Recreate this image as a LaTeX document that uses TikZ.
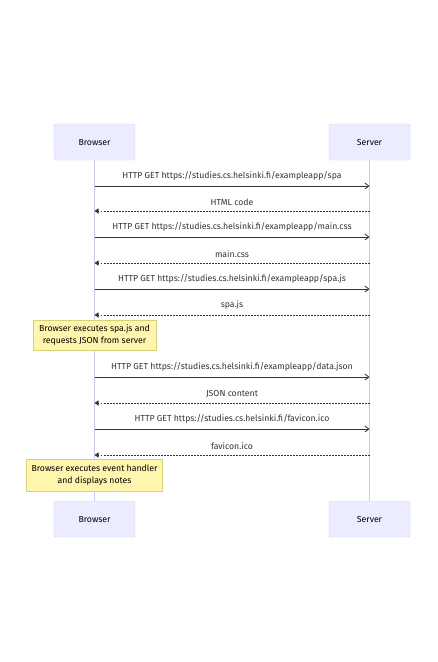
\documentclass[tikz,border=0pt]{standalone}
\usepackage{fontspec}
\setmainfont{Fira Sans}
\usetikzlibrary{arrows.meta}
\definecolor{actorfill}{HTML}{ECECFF}
\definecolor{actorline}{HTML}{D8D0F4}
\definecolor{lifeline}{HTML}{CFC6F2}
\definecolor{notefill}{HTML}{FFF5AD}
\definecolor{noteline}{HTML}{D6D27A}
\definecolor{msgcol}{HTML}{333333}
\tikzset{
  actor/.style={draw=actorline, fill=actorfill, rounded corners=1.5pt, minimum width=81pt, minimum height=36pt, inner sep=0pt, text height=6.2pt, text depth=0pt, font=\fontsize{8.7}{10}\selectfont, text=black},
  notebox/.style={draw=noteline, fill=notefill, inner sep=0pt, align=center, font=\fontsize{8.7}{11.5}\selectfont, text=black},
  lifeln/.style={draw=lifeline, line width=0.6pt},
  req/.style={draw=msgcol, line width=0.8pt, -{Straight Barb[length=4pt,width=6pt]}},
  resp/.style={draw=msgcol, line width=0.8pt, dash pattern=on 1.5pt off 1.5pt, -{Triangle[length=4pt,width=5pt]}},
  msg/.style={font=\fontsize{8.7}{10}\selectfont, text=msgcol, inner sep=0pt}
}
\begin{document}
\begin{tikzpicture}[x=1pt,y=-1pt]
\useasboundingbox (0,0) rectangle (437,662);
% participants
\node[actor] (bt) at (94.5,142) {Browser};
\node[actor] (st) at (369.5,142) {Server};
\node[actor] (bb) at (94.5,519) {Browser};
\node[actor] (sb) at (369.5,519) {Server};
\draw[lifeln] (bt.south) -- (bb.north);
\draw[lifeln] (st.south) -- (sb.north);
% message anchor points on the lifelines
\foreach \n/\y in {1/186,2/211,3/237,4/263,5/289,6/315,7/377,8/403,9/429,10/455}{
  \coordinate (b\n) at (94.5,\y);
  \coordinate (s\n) at (369.5,\y);
}
% requests and responses
\draw[req] (b1) -- (s1) node[msg, midway, above=5pt] {HTTP GET https://studies.cs.helsinki.fi/exampleapp/spa};
\draw[resp] (s2) -- (b2) node[msg, midway, above=5pt] {HTML code};
\draw[req] (b3) -- (s3) node[msg, midway, above=5pt] {HTTP GET https://studies.cs.helsinki.fi/exampleapp/main.css};
\draw[resp] (s4) -- (b4) node[msg, midway, above=5pt] {main.css};
\draw[req] (b5) -- (s5) node[msg, midway, above=5pt] {HTTP GET https://studies.cs.helsinki.fi/exampleapp/spa.js};
\draw[resp] (s6) -- (b6) node[msg, midway, above=5pt] {spa.js};
\node[notebox, minimum width=123pt, minimum height=30pt] (n1) at (94.5,335) {Browser executes spa.js and\\requests JSON from server};
\draw[req] (b7) -- (s7) node[msg, midway, above=5pt] {HTTP GET https://studies.cs.helsinki.fi/exampleapp/data.json};
\draw[resp] (s8) -- (b8) node[msg, midway, above=5pt] {JSON content};
\draw[req] (b9) -- (s9) node[msg, midway, above=5pt] {HTTP GET https://studies.cs.helsinki.fi/favicon.ico};
\draw[resp] (s10) -- (b10) node[msg, midway, above=5pt] {favicon.ico};
\node[notebox, minimum width=136pt, minimum height=32pt] (n2) at (94.5,475) {Browser executes event handler\\and displays notes};
\end{tikzpicture}
\end{document}
